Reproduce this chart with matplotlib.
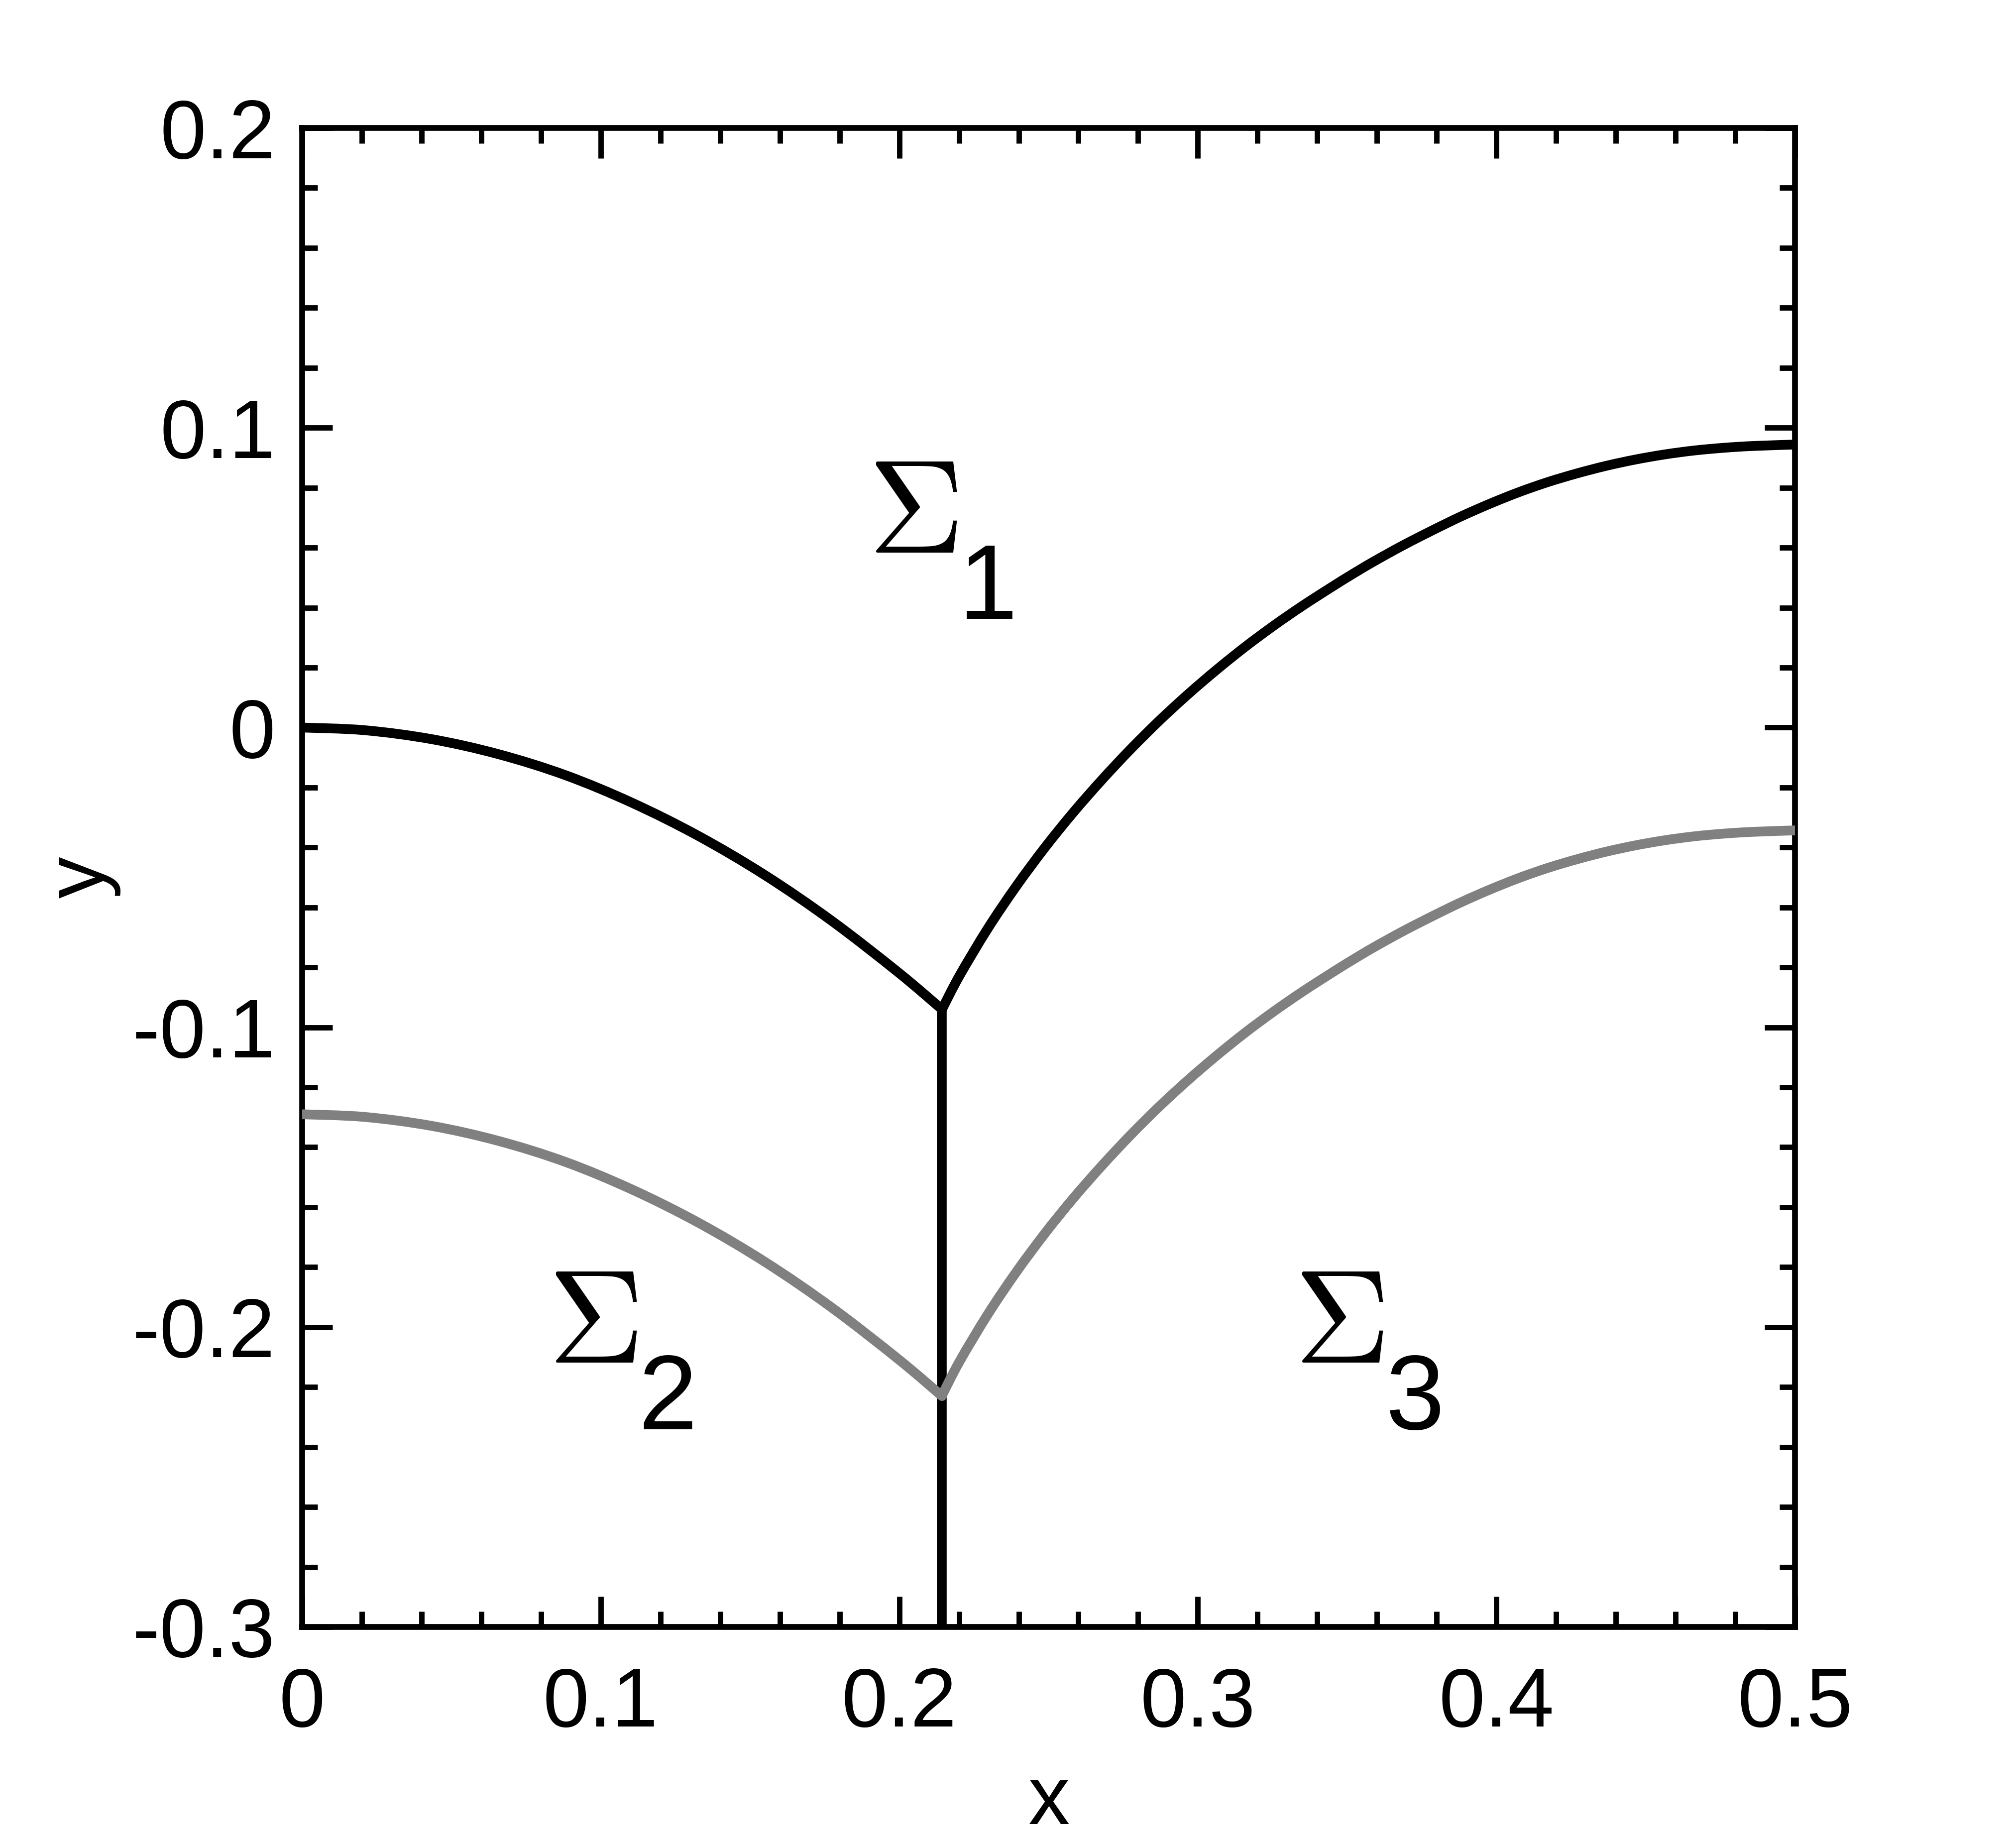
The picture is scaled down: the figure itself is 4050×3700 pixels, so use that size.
import matplotlib.pyplot as plt
from matplotlib.ticker import MultipleLocator
from matplotlib.path import Path
from matplotlib.patches import PathPatch

# upper interface (black), left branch and right branch
black_left_x = [0.0, 0.021, 0.0435, 0.0658, 0.0882, 0.1105, 0.1328, 0.1551, 0.1774, 0.1997, 0.2143]
black_left_y = [0.0, -0.0009, -0.0039, -0.0089, -0.0159, -0.0251, -0.0362, -0.0493, -0.0645, -0.0817, -0.0940]

black_right_x = [0.2143, 0.2201, 0.2296, 0.2392, 0.2488, 0.2583, 0.2679, 0.2775, 0.2870, 0.2966,
                 0.3062, 0.3157, 0.3253, 0.3349, 0.3444, 0.3515, 0.3586, 0.3684, 0.3782, 0.3879, 0.3977,
                 0.4075, 0.4173, 0.4271, 0.4368, 0.4466, 0.4564, 0.4662, 0.4760, 0.4857, 0.5]
black_right_y = [-0.0940, -0.0829, -0.0671, -0.0529, -0.0400, -0.0283, -0.0174, -0.0072, 0.0022, 0.0110,
                 0.0192, 0.0268, 0.0339, 0.0405, 0.0466, 0.0510, 0.0552, 0.0606, 0.0656, 0.0703, 0.0746,
                 0.0785, 0.0819, 0.0848, 0.0873, 0.0894, 0.0911, 0.0924, 0.0933, 0.0939, 0.0944]

# lower interface (grey)
grey_left_x = [0.0, 0.021, 0.0435, 0.0658, 0.0882, 0.1105, 0.1328, 0.1551, 0.1774, 0.1997, 0.2143]
grey_left_y = [-0.1290, -0.1299, -0.1329, -0.1379, -0.1449, -0.1541, -0.1652, -0.1783, -0.1935, -0.2107, -0.2230]

grey_right_x = [0.2143, 0.2201, 0.2296, 0.2392, 0.2488, 0.2583, 0.2679, 0.2775, 0.2870, 0.2966,
                0.3062, 0.3157, 0.3253, 0.3349, 0.3444, 0.3515, 0.3586, 0.3684, 0.3782, 0.3879, 0.3977,
                0.4075, 0.4173, 0.4271, 0.4368, 0.4466, 0.4564, 0.4662, 0.4760, 0.4857, 0.5]
grey_right_y = [-0.2228, -0.2116, -0.1958, -0.1816, -0.1687, -0.1570, -0.1461, -0.1359, -0.1265, -0.1177,
                -0.1095, -0.1019, -0.0948, -0.0882, -0.0821, -0.0777, -0.0735, -0.0681, -0.0631, -0.0584, -0.0541,
                -0.0502, -0.0468, -0.0439, -0.0414, -0.0393, -0.0376, -0.0363, -0.0354, -0.0348, -0.0343]

# vertical wall
wall_x = [0.2143, 0.2143]
wall_y = [-0.0940, -0.3]

# region labels: Sigma (centre, baseline) and its subscript digit
sub_text = ['1', '2', '3']
sig_x = [0.2045, 0.0973, 0.3472]
sig_y = [0.0583, -0.2119, -0.2119]
sub_x = [0.2297, 0.1225, 0.3728]
sub_y = [0.0362, -0.2340, -0.2340]

xticks = [0.0, 0.1, 0.2, 0.3, 0.4, 0.5]
xticklabels = ['0', '0.1', '0.2', '0.3', '0.4', '0.5']
yticks = [-0.3, -0.2, -0.1, 0.0, 0.1, 0.2]
yticklabels = ['-0.3', '-0.2', '-0.1', '0', '0.1', '0.2']


def smooth_path(xs, ys):
    # cubic bezier pieces through the read points (catmull-rom tangents)
    n = len(xs)
    verts = [(xs[0], ys[0])]
    codes = [Path.MOVETO]
    for i in range(n - 1):
        a, b = max(i - 1, 0), min(i + 2, n - 1)
        verts.append((xs[i] + (xs[i + 1] - xs[a]) / 6, ys[i] + (ys[i + 1] - ys[a]) / 6))
        verts.append((xs[i + 1] - (xs[b] - xs[i]) / 6, ys[i + 1] - (ys[b] - ys[i]) / 6))
        verts.append((xs[i + 1], ys[i + 1]))
        codes += [Path.CURVE4] * 3
    return Path(verts, codes)


plt.rcParams['font.family'] = ['Liberation Sans', 'DejaVu Sans']

fig = plt.figure(figsize=(13.5, 3700 / 300), dpi=300)
ax = fig.add_axes([0.14988, 0.11676, 0.74049, 0.81378])

lw = 4.7
ax.plot(wall_x, wall_y, color='black', lw=lw, solid_capstyle='butt', zorder=3)
for xs, ys, col, z in [(black_left_x, black_left_y, 'black', 3),
                       (black_right_x, black_right_y, 'black', 3),
                       (grey_left_x, grey_left_y, '#808080', 4),
                       (grey_right_x, grey_right_y, '#808080', 4)]:
    ax.add_patch(PathPatch(smooth_path(xs, ys), facecolor='none', edgecolor=col, lw=lw,
                           capstyle='round', joinstyle='round', zorder=z))

for i in range(len(sub_text)):
    ax.text(sig_x[i], sig_y[i], r'$\Sigma$', math_fontfamily='cm', fontsize=64,
            ha='center', va='baseline')
    ax.text(sub_x[i], sub_y[i], sub_text[i], fontsize=51, ha='center', va='baseline')

ax.set_xlim(0, 0.5)
ax.set_ylim(-0.3, 0.2)
ax.set_xticks(xticks, xticklabels)
ax.set_yticks(yticks, yticklabels)
ax.xaxis.set_minor_locator(MultipleLocator(0.02))
ax.yaxis.set_minor_locator(MultipleLocator(0.02))

ax.tick_params(which='both', direction='in', top=True, right=True, width=2.6, labelsize=40)
ax.tick_params(which='major', length=14.6)
ax.tick_params(which='minor', length=7.4)
ax.tick_params(axis='x', pad=19)
ax.tick_params(axis='y', pad=13)

for s in ax.spines.values():
    s.set_linewidth(2.8)

ax.set_xlabel('x', fontsize=40, va='baseline')
ax.set_ylabel('y', fontsize=40, va='baseline')
ax.xaxis.set_label_coords(0.5, -0.1316)
ax.yaxis.set_label_coords(-0.1333, 0.5)

fig.savefig('out.png', dpi=300)
